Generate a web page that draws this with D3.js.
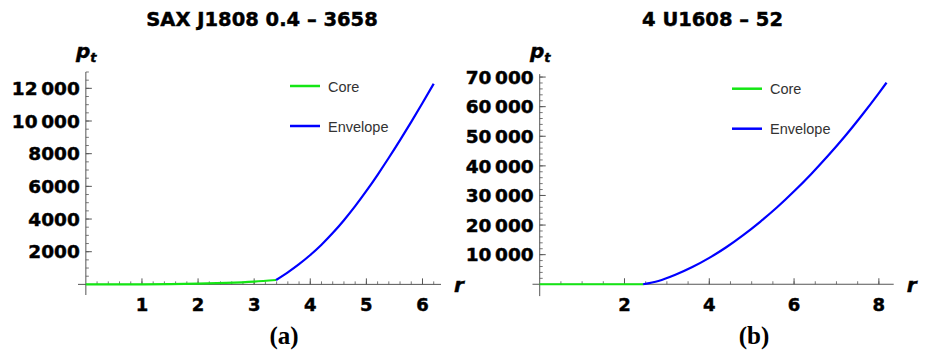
<!DOCTYPE html>
<html>
<head>
<meta charset="utf-8">
<script src="https://cdn.jsdelivr.net/npm/d3@7/dist/d3.min.js"></script>
<style>
  html, body { margin: 0; padding: 0; background: #fff; }
  svg { display: block; }
</style>
</head>
<body>
<svg id="chart" width="927" height="358"></svg>
<script>
// ---- SAX J1808 0.4 – 3658 : tangential pressure p_t vs radius r ----
const saxCoreR = [0, 0.5, 1, 1.5, 2, 2.5, 3, 3.39];
const saxCoreP = [0, 1, 6, 18, 42, 90, 170, 270];
const saxEnvR  = [3.39, 3.6, 3.8, 4.0, 4.2, 4.4, 4.6, 4.8, 5.0, 5.2, 5.4, 5.6, 5.8, 6.0, 6.2];
const saxEnvP  = [270, 740, 1240, 1800, 2430, 3140, 3930, 4790, 5720, 6710, 7750, 8830, 9950, 11100, 12280];
const saxXTicks = [1, 2, 3, 4, 5, 6];
const saxXLabels = ["1", "2", "3", "4", "5", "6"];
const saxYTicks = [2000, 4000, 6000, 8000, 10000, 12000];
const saxYLabels = ["2000", "4000", "6000", "8000", "10\u2009000", "12\u2009000"];

// ---- 4 U1608 – 52 ----
const uCoreR = [0, 1, 2, 2.44];
const uCoreP = [0, 0, 0, 0];
const uEnvR  = [2.44, 2.8, 3.2, 3.6, 4.0, 4.4, 4.8, 5.2, 5.6, 6.0, 6.4, 6.8, 7.2, 7.6, 8.0, 8.18];
const uEnvP  = [0, 1100, 3200, 5800, 8900, 12500, 16600, 21100, 26000, 31400, 37200, 43400, 50000, 57100, 64600, 68100];
const uXTicks = [2, 4, 6, 8];
const uXLabels = ["2", "4", "6", "8"];
const uYTicks = [10000, 20000, 30000, 40000, 50000, 60000, 70000];
const uYLabels = ["10\u2009000", "20\u2009000", "30\u2009000", "40\u2009000", "50\u2009000", "60\u2009000", "70\u2009000"];

const legendNames = ["Core", "Envelope"];
const seriesColors = ["#14e614", "#0000ff"];

const svg = d3.select("#chart");
const axisColor = "#555";
const boldFont = "DejaVu Sans, sans-serif";

function zip(rs, ps) { return rs.map((r, i) => ({ r: r, p: ps[i] })); }

// heavy bold text helper
function heavy(sel, size) {
  return sel.attr("font-family", boldFont).attr("font-weight", "bold")
    .attr("font-size", size).attr("fill", "#000")
    .attr("stroke", "#000").attr("stroke-width", 0.45);
}

function panel(cfg) {
  const x = d3.scaleLinear().domain(cfg.xDomain).range(cfg.xRange);
  const y = d3.scaleLinear().domain(cfg.yDomain).range(cfg.yRange);
  const g = svg.append("g");

  // x axis (ticks pointing up into the plot)
  const xAxis = g.append("g").attr("transform", `translate(0,${y(0)})`);
  xAxis.append("line")
    .attr("x1", cfg.xRange[0]).attr("x2", cfg.xRange[1])
    .attr("stroke", axisColor).attr("stroke-width", 1);
  const xMinor = d3.range(cfg.xMinorStep, cfg.xDomain[1], cfg.xMinorStep);
  xAxis.selectAll("line.minor").data(xMinor).join("line")
    .attr("class", "minor")
    .attr("x1", d => x(d)).attr("x2", d => x(d))
    .attr("y1", 0).attr("y2", -3)
    .attr("stroke", axisColor).attr("stroke-width", 0.8);
  xAxis.selectAll("line.major").data(cfg.xTicks).join("line")
    .attr("class", "major")
    .attr("x1", d => x(d)).attr("x2", d => x(d))
    .attr("y1", 0).attr("y2", -6)
    .attr("stroke", axisColor).attr("stroke-width", 1);
  heavy(xAxis.selectAll("text").data(cfg.xTicks).join("text"), 18)
    .attr("x", d => x(d)).attr("y", 26.5)
    .attr("text-anchor", "middle")
    .text((d, i) => cfg.xLabels[i]);

  // y axis (ticks pointing right into the plot)
  const yAxis = g.append("g").attr("transform", `translate(${x(0)},0)`);
  yAxis.append("line")
    .attr("y1", cfg.yRange[0]).attr("y2", cfg.yRange[1])
    .attr("stroke", axisColor).attr("stroke-width", 1);
  const yMinor = d3.range(cfg.yMinorStep, cfg.yDomain[1] + 1, cfg.yMinorStep);
  yAxis.selectAll("line.minor").data(yMinor).join("line")
    .attr("class", "minor")
    .attr("y1", d => y(d)).attr("y2", d => y(d))
    .attr("x1", 0).attr("x2", 3)
    .attr("stroke", axisColor).attr("stroke-width", 0.8);
  yAxis.selectAll("line.major").data(cfg.yTicks).join("line")
    .attr("class", "major")
    .attr("y1", d => y(d)).attr("y2", d => y(d))
    .attr("x1", 0).attr("x2", 6)
    .attr("stroke", axisColor).attr("stroke-width", 1);
  heavy(yAxis.selectAll("text").data(cfg.yTicks).join("text"), 18.5)
    .attr("x", -6).attr("y", d => y(d))
    .attr("dy", "0.36em")
    .attr("text-anchor", "end")
    .text((d, i) => cfg.yLabels[i]);

  // curves
  const line = d3.line().x(d => x(d.r)).y(d => y(d.p)).curve(d3.curveMonotoneX);
  cfg.series.forEach((s, i) => {
    g.append("path")
      .datum(s)
      .attr("d", line)
      .attr("fill", "none")
      .attr("stroke", seriesColors[i])
      .attr("stroke-width", 2.2);
  });

  // legend
  legendNames.forEach((name, i) => {
    const ly = cfg.legendY + i * 40;
    g.append("line")
      .attr("x1", cfg.legendX).attr("x2", cfg.legendX + 30)
      .attr("y1", ly).attr("y2", ly)
      .attr("stroke", seriesColors[i]).attr("stroke-width", 2.5);
    g.append("text")
      .attr("x", cfg.legendX + 38).attr("y", ly + 5.5)
      .attr("font-family", "Liberation Sans, Arial, sans-serif")
      .attr("font-size", 14.5).attr("fill", "#333")
      .text(name);
  });

  // title
  heavy(g.append("text"), 19.5)
    .attr("x", cfg.titleX).attr("y", 26)
    .attr("text-anchor", "middle")
    .text(cfg.title);

  // axis labels p_t and r
  const pt = heavy(g.append("text"), 20)
    .attr("x", cfg.ptX).attr("y", 57.5)
    .attr("font-style", "italic");
  pt.append("tspan").text("p");
  pt.append("tspan").attr("dy", 4).attr("font-size", 13).text("t");

  heavy(g.append("text"), 20)
    .attr("x", cfg.xRange[1] + 13).attr("y", 291.5)
    .attr("font-style", "italic")
    .text("r");

  // panel tag
  g.append("text")
    .attr("x", cfg.tagX).attr("y", 343.5)
    .attr("text-anchor", "middle")
    .attr("font-family", "Liberation Serif, Times New Roman, serif").attr("font-weight", "bold")
    .attr("font-size", 25).attr("fill", "#000")
    .text(cfg.tag);
}

panel({
  xDomain: [-0.14, 6.33], xRange: [78, 441],
  yDomain: [-650, 13000], yRange: [295, 72],
  xTicks: saxXTicks, xLabels: saxXLabels, xMinorStep: 0.2,
  yTicks: saxYTicks, yLabels: saxYLabels, yMinorStep: 500,
  series: [zip(saxCoreR, saxCoreP), zip(saxEnvR, saxEnvP)],
  legendX: 290, legendY: 86,
  title: "SAX J1808 0.4 \u2013 3658", titleX: 262,
  ptX: 76, tag: "(a)", tagX: 284
});

panel({
  xDomain: [-0.17, 8.35], xRange: [532.5, 893.7],
  yDomain: [-4000, 71000], yRange: [296.1, 74.1],
  xTicks: uXTicks, xLabels: uXLabels, xMinorStep: 0.5,
  yTicks: uYTicks, yLabels: uYLabels, yMinorStep: 2000,
  series: [zip(uCoreR, uCoreP), zip(uEnvR, uEnvP)],
  legendX: 732, legendY: 88.7,
  title: "4 U1608 \u2013 52", titleX: 712.5,
  ptX: 530, tag: "(b)", tagX: 754
});
</script>
</body>
</html>
